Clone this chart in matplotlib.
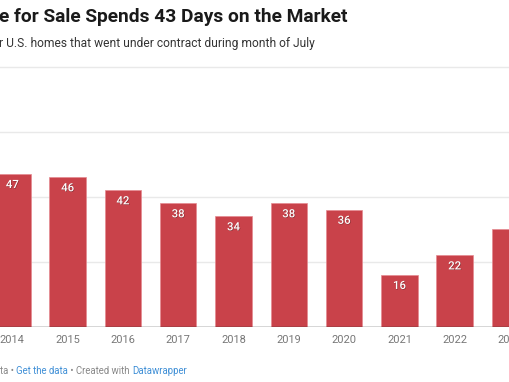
import matplotlib.pyplot as plt
import matplotlib.patheffects as pe

years = ["2014", "2015", "2016", "2017", "2018", "2019", "2020", "2021", "2022", "2023"]
days = [47, 46, 42, 38, 34, 38, 36, 16, 22, 30]
label_days = [True] * 9 + [False]

title = "e for Sale Spends 43 Days on the Market"
subtitle = "r U.S. homes that went under contract during month of July"
footer = [("ta • ", "#888888"), ("Get the data", "#3f8fd6"),
          (" • Created with ", "#888888"), ("Datawrapper", "#3f8fd6")]

bar_color = "#c9424a"

plt.rcParams['font.family'] = ['Roboto', 'DejaVu Sans']

W, H = 510, 382
fig = plt.figure(figsize=(W / 100, H / 100), dpi=100)

base_y = 327
top_y = 66.5
ax = fig.add_axes([0, (H - base_y) / H, 1, (base_y - top_y) / H])

step = 56.25
x0 = 12.5
ax.set_xlim(-x0 / step, (W - x0) / step)
ax.set_ylim(0, 80)

x = list(range(len(years)))
bars = ax.bar(x, days, width=0.66, color=bar_color, edgecolor="#e58a90",
              linewidth=0.5, zorder=3)

for i, (b, v) in enumerate(zip(bars, days)):
    if label_days[i]:
        ax.text(b.get_x() + b.get_width() / 2, v - 3.4, str(v), ha="center",
                va="center", color="white", fontsize=8.2, fontweight="medium",
                zorder=4,
                path_effects=[pe.withSimplePatchShadow(offset=(0.4, -0.4),
                                                       shadow_rgbFace="#000000",
                                                       alpha=0.35)])

for g in [20, 40, 60, 80]:
    ax.axhline(g, color="#e9e9e9", linewidth=1.0, zorder=1, clip_on=False)
ax.axhline(0, color="#333333", linewidth=1.0, zorder=5)

ax.set_xticks(x)
ax.set_xticklabels(years, color="#777777", fontsize=7.9)
ax.tick_params(axis="x", length=0, pad=6)
ax.set_yticks([])
for s in ax.spines.values():
    s.set_visible(False)

fig.text(-1 / W, 1 - 17 / H, title, ha="left", va="center", fontsize=13.75,
         fontweight="bold", color="#1a1a1a")
fig.text(-1 / W, 1 - 44 / H, subtitle, ha="left", va="center", fontsize=8.65,
         color="#333333")

# footer pieces chained one after another
s, c = footer[0]
t = fig.text(0, 1 - 374 / H, s, ha="left", va="baseline", fontsize=6.9, color=c)
for s, c in footer[1:]:
    t = ax.annotate(s, xy=(1, 0), xycoords=t, ha="left", va="bottom",
                    fontsize=6.9, color=c, annotation_clip=False)

fig.savefig("out.png", dpi=100)
